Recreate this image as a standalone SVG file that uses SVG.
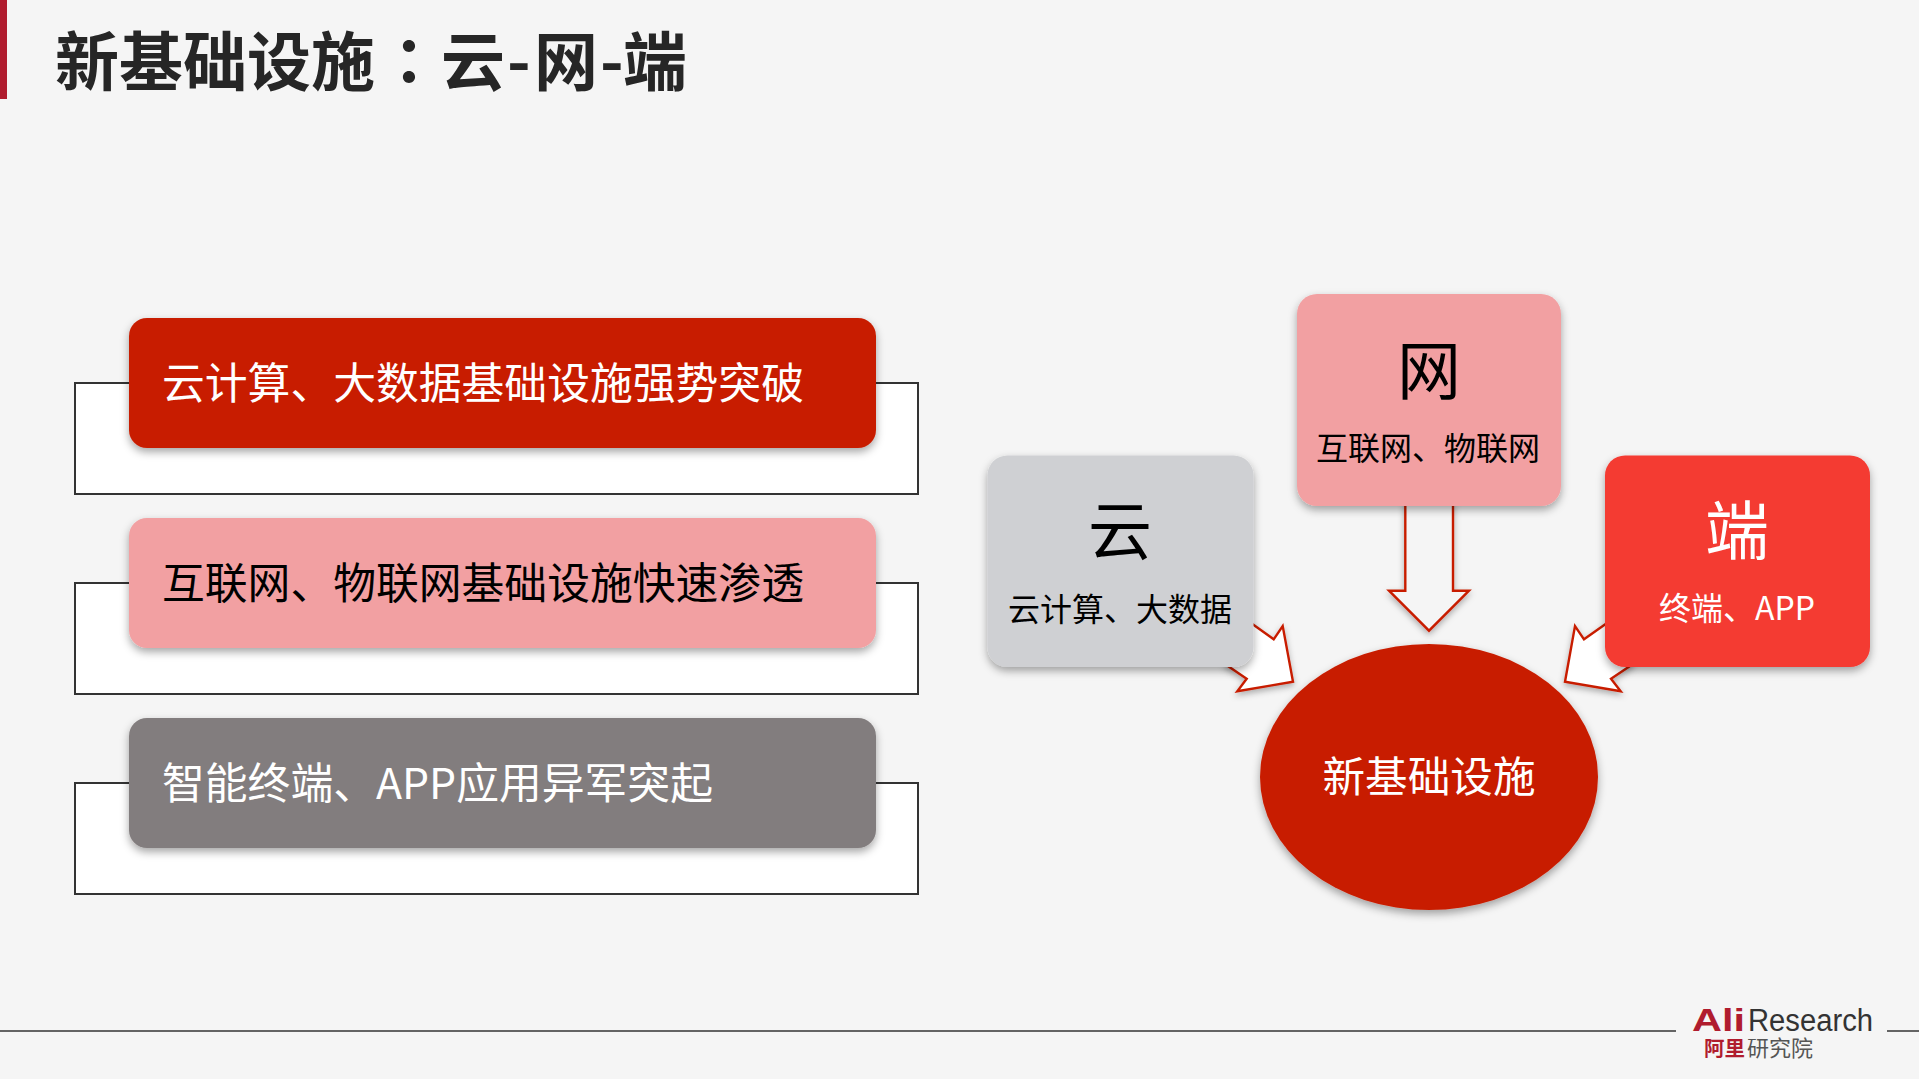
<svg xmlns="http://www.w3.org/2000/svg" width="1919" height="1079" viewBox="0 0 1919 1079">
<style>
text{font-family:"Noto Sans CJK SC","Liberation Sans",sans-serif}
.w{fill:#fff}.k{fill:#000}
.l{font-size:42.8px}
.m{font-size:42.6px;text-anchor:middle}
.s{font-size:32px;text-anchor:middle}
.b{font-size:64px;text-anchor:middle}
.panel{fill:#fff;stroke:#333;stroke-width:2}
.arrow{fill:#fff;stroke:#c81e00;stroke-width:2.4;stroke-linejoin:miter;filter:url(#sa)}
.hollow{fill:#f5f5f5}
.shadow{filter:url(#sh)}
.rule{stroke:#333;stroke-width:1.5}
</style>
<defs><filter id="sh" x="-10%" y="-10%" width="120%" height="125%"><feDropShadow dx="0" dy="4" stdDeviation="4" flood-color="#000" flood-opacity=".35"/></filter>
<filter id="sa" x="-15%" y="-15%" width="130%" height="130%"><feDropShadow dx="0" dy="3" stdDeviation="3" flood-color="#000" flood-opacity=".3"/></filter></defs>
<rect width="1919" height="1079" fill="#f5f5f5"/>
<rect id="accent" x="0" y="0" width="7" height="99" fill="#b01c2e"/>
<text id="title" y="85" font-size="64" font-weight="700" fill="#262626"><tspan x="55">新基础设施</tspan><tspan x="377" style="font-family:'Noto Sans CJK TC',sans-serif">：</tspan><tspan x="441">云</tspan><tspan x="507">-</tspan><tspan x="534">网</tspan><tspan x="600">-</tspan><tspan x="623">端</tspan></text>
<g id="item1"><rect class="panel" x="75" y="383" width="843" height="111"/><rect class="shadow" x="129" y="318" width="747" height="130" rx="18" fill="#c81e00"/><text class="l w" x="162" y="399">云计算、大数据基础设施强势突破</text></g>
<g id="item2"><rect class="panel" x="75" y="583" width="843" height="111"/><rect class="shadow" x="129" y="518" width="747" height="130" rx="18" fill="#f2a0a2"/><text class="l k" x="162" y="599">互联网、物联网基础设施快速渗透</text></g>
<g id="item3"><rect class="panel" x="75" y="783" width="843" height="111"/><rect class="shadow" x="129" y="718" width="747" height="130" rx="18" fill="#827d7e"/><text class="l w" x="162" y="799">智能终端、APP应用异军突起</text></g>
<g id="connectors">
<polygon class="arrow hollow" points="1405.3,500 1453,500 1453,590.7 1469,590.7 1429,630.7 1389,590.7 1405.3,590.7"/>
<polygon class="arrow" points="1252.7,624.3 1273.7,639.3 1282.7,626 1293,681.7 1237.3,691.3 1246.7,678.7 1225,664 1240,630"/>
<polygon class="arrow" points="1605.3,624.3 1584,639.3 1575,626 1565,681.7 1620.7,691.3 1611,678.7 1633,664 1620,630"/>
</g>
<g id="wang"><rect class="shadow" x="1297" y="294" width="264" height="212" rx="20" fill="#f2a0a2"/><text class="b k" x="1429" y="394">网</text><text class="s k" x="1428" y="460">互联网、物联网</text></g>
<g id="yun"><rect class="shadow" x="987.5" y="455.5" width="266" height="211.5" rx="20" fill="#cfd0d3"/><text class="b k" x="1120" y="554">云</text><text class="s k" x="1120" y="621">云计算、大数据</text></g>
<g id="duan"><rect class="shadow" x="1605" y="455.5" width="265" height="211.5" rx="20" fill="#f43a32"/><text class="b w" x="1737" y="554">端</text><text class="s w" x="1737" y="620">终端、APP</text></g>
<g id="core"><ellipse class="shadow" cx="1429" cy="777" rx="169" ry="133" fill="#c81e00"/><text class="m w" x="1429" y="792">新基础设施</text></g>
<g id="footer"><line class="rule" x1="0" y1="1031" x2="1676" y2="1031"/><line class="rule" x1="1887" y1="1031" x2="1919" y2="1031"/>
<text x="1692" y="1031" font-size="32" font-weight="700" fill="#b01c2e" style="font-family:'Liberation Sans',sans-serif" textLength="53" lengthAdjust="spacingAndGlyphs">Ali</text>
<text x="1748" y="1031" font-size="31" fill="#333" style="font-family:'Liberation Sans',sans-serif" textLength="125" lengthAdjust="spacingAndGlyphs">Research</text>
<text x="1704" y="1056" font-size="20.5" font-weight="700" fill="#b01c2e">阿里</text>
<text x="1747" y="1056" font-size="22" fill="#555">研究院</text></g>
</svg>
